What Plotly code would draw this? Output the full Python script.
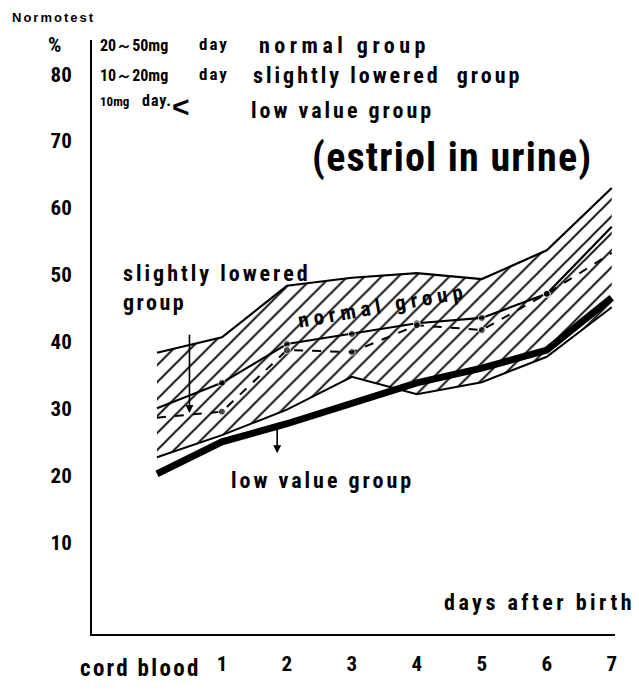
import plotly.graph_objects as go

# ---------------- data ----------------
days = [0, 1, 2, 3, 4, 5, 6, 7]          # 0 = cord blood
day_ticks = [1, 2, 3, 4, 5, 6, 7]
day_labels = ["1", "2", "3", "4", "5", "6", "7"]
y_ticks = [10, 20, 30, 40, 50, 60, 70, 80]

normal_upper = [38.4, 40.7, 48.4, 49.6, 50.3, 49.4, 53.7, 63.0]
normal_lower = [22.8, 26.1, 29.9, 34.8, 32.2, 34.0, 37.8, 45.2]
normal_mean = [30.1, 33.9, 39.7, 41.2, 42.8, 43.6, 47.2, 57.2]
slightly_lowered = [28.7, 29.6, 38.8, 38.5, 42.5, 41.8, 47.2, 53.3]
low_value = [20.3, 25.1, 27.8, 30.9, 33.9, 36.1, 38.8, 46.6]

# ---------------- styling ----------------
FONT = "Roboto Condensed, Roboto, sans-serif"
FONT_SMALL = "Liberation Sans, Arial, sans-serif"
BLACK = "black"
OFF = 8                       # page body margin
W, H = 631, 683
L, R, T, B = 84, 24, 32, 57
PW, PH = W - L - R, H - T - B


def px(x):                    # page x -> paper
    return (x - OFF - L) / PW


def py(y):                    # page y -> paper
    return (H - B - (y - OFF)) / PH


dot_sizes = [0, 7, 7, 7, 7, 7, 7, 0]

fig = go.Figure()

fig.add_trace(go.Scatter(
    x=days, y=normal_lower, mode="lines",
    line=dict(color=BLACK, width=2), showlegend=False, hoverinfo="skip"))
fig.add_trace(go.Scatter(
    x=days, y=normal_upper, mode="lines", fill="tonexty",
    fillpattern=dict(shape="/", fgcolor=BLACK, bgcolor="white", fgopacity=1,
                     size=12, solidity=0.16),
    line=dict(color=BLACK, width=2.2), showlegend=False, hoverinfo="skip"))
fig.add_trace(go.Scatter(
    x=days, y=low_value, mode="lines",
    line=dict(color=BLACK, width=7), showlegend=False))
fig.add_trace(go.Scatter(
    x=days, y=normal_mean, mode="lines+markers",
    line=dict(color=BLACK, width=2.2),
    marker=dict(color=BLACK, size=dot_sizes), showlegend=False))
fig.add_trace(go.Scatter(
    x=days, y=slightly_lowered, mode="lines+markers",
    line=dict(color=BLACK, width=2, dash="dash"),
    marker=dict(color=BLACK, size=dot_sizes), showlegend=False))


def txt(text, x, y, size, ls=0.0, xanchor="left", angle=0, family=FONT):
    if ls:
        text = f'<span style="letter-spacing:{ls}px">{text}</span>'
    fig.add_annotation(
        text=text, x=px(x), y=py(y), xref="paper", yref="paper",
        xanchor=xanchor, yanchor="middle", showarrow=False,
        textangle=angle, font=dict(size=size, family=family, color=BLACK, weight=700))


txt("Normotest", 10, 17, 13, ls=2, family=FONT_SMALL)
txt("%", 46, 45, 21)
txt("20～50mg", 98, 46, 16)
txt("day", 197, 44, 17, ls=2)
txt("normal group", 257, 45, 22, ls=4.5)
txt("10～20mg", 98, 76, 16)
txt("day", 197, 74, 17, ls=2)
txt("slightly lowered  group", 251, 76, 22, ls=3)
txt("10mg", 98, 101, 13)
txt("day.", 140, 100, 16, ls=1)
txt("<", 170, 106, 30, family=FONT_SMALL)
txt("low value group", 249, 110, 22, ls=3)
txt("(estriol in urine)", 310, 157, 40, ls=1.2)
txt("slightly lowered", 121, 273, 22, ls=3)
txt("group", 121, 302, 22, ls=2.5)
txt("normal group", 383, 306, 21, ls=5, xanchor="center", angle=-10)
txt("low value group", 229, 480, 22, ls=3)
txt("days after birth", 442, 602, 22, ls=3.5)
txt("cord blood", 78, 669, 23, ls=2.3)

# arrows
fig.add_annotation(x=0.5, y=29.4, ax=0.5, ay=41.3, xref="x", yref="y",
                   axref="x", ayref="y", text="", showarrow=True,
                   arrowhead=2, arrowsize=1, arrowwidth=1.6, arrowcolor=BLACK)
fig.add_annotation(x=1.85, y=23.4, ax=1.85, ay=27.3, xref="x", yref="y",
                   axref="x", ayref="y", text="", showarrow=True,
                   arrowhead=2, arrowsize=1, arrowwidth=1.6, arrowcolor=BLACK)

tickfont = dict(size=21, family=FONT, color=BLACK, weight=700)
fig.update_layout(
    width=W, height=H, autosize=False,
    margin=dict(l=L, r=R, t=T, b=B, autoexpand=False),
    paper_bgcolor="white", plot_bgcolor="white",
    font=dict(family=FONT, color=BLACK),
    xaxis=dict(range=[-1.0, 7.05], tickmode="array", tickvals=day_ticks,
               ticktext=day_labels, showgrid=False, zeroline=False,
               automargin=False,
               showline=True, linecolor=BLACK, linewidth=2, ticks="",
               ticklabelstandoff=10, tickfont=tickfont),
    yaxis=dict(range=[-3.6, 85.1], tickmode="array", tickvals=y_ticks,
               showgrid=False, zeroline=False, showline=True, linecolor=BLACK,
               automargin=False,
               linewidth=2, ticks="", ticklabelstandoff=14,
               tickfont=tickfont),
)

fig.write_html("out.html")
